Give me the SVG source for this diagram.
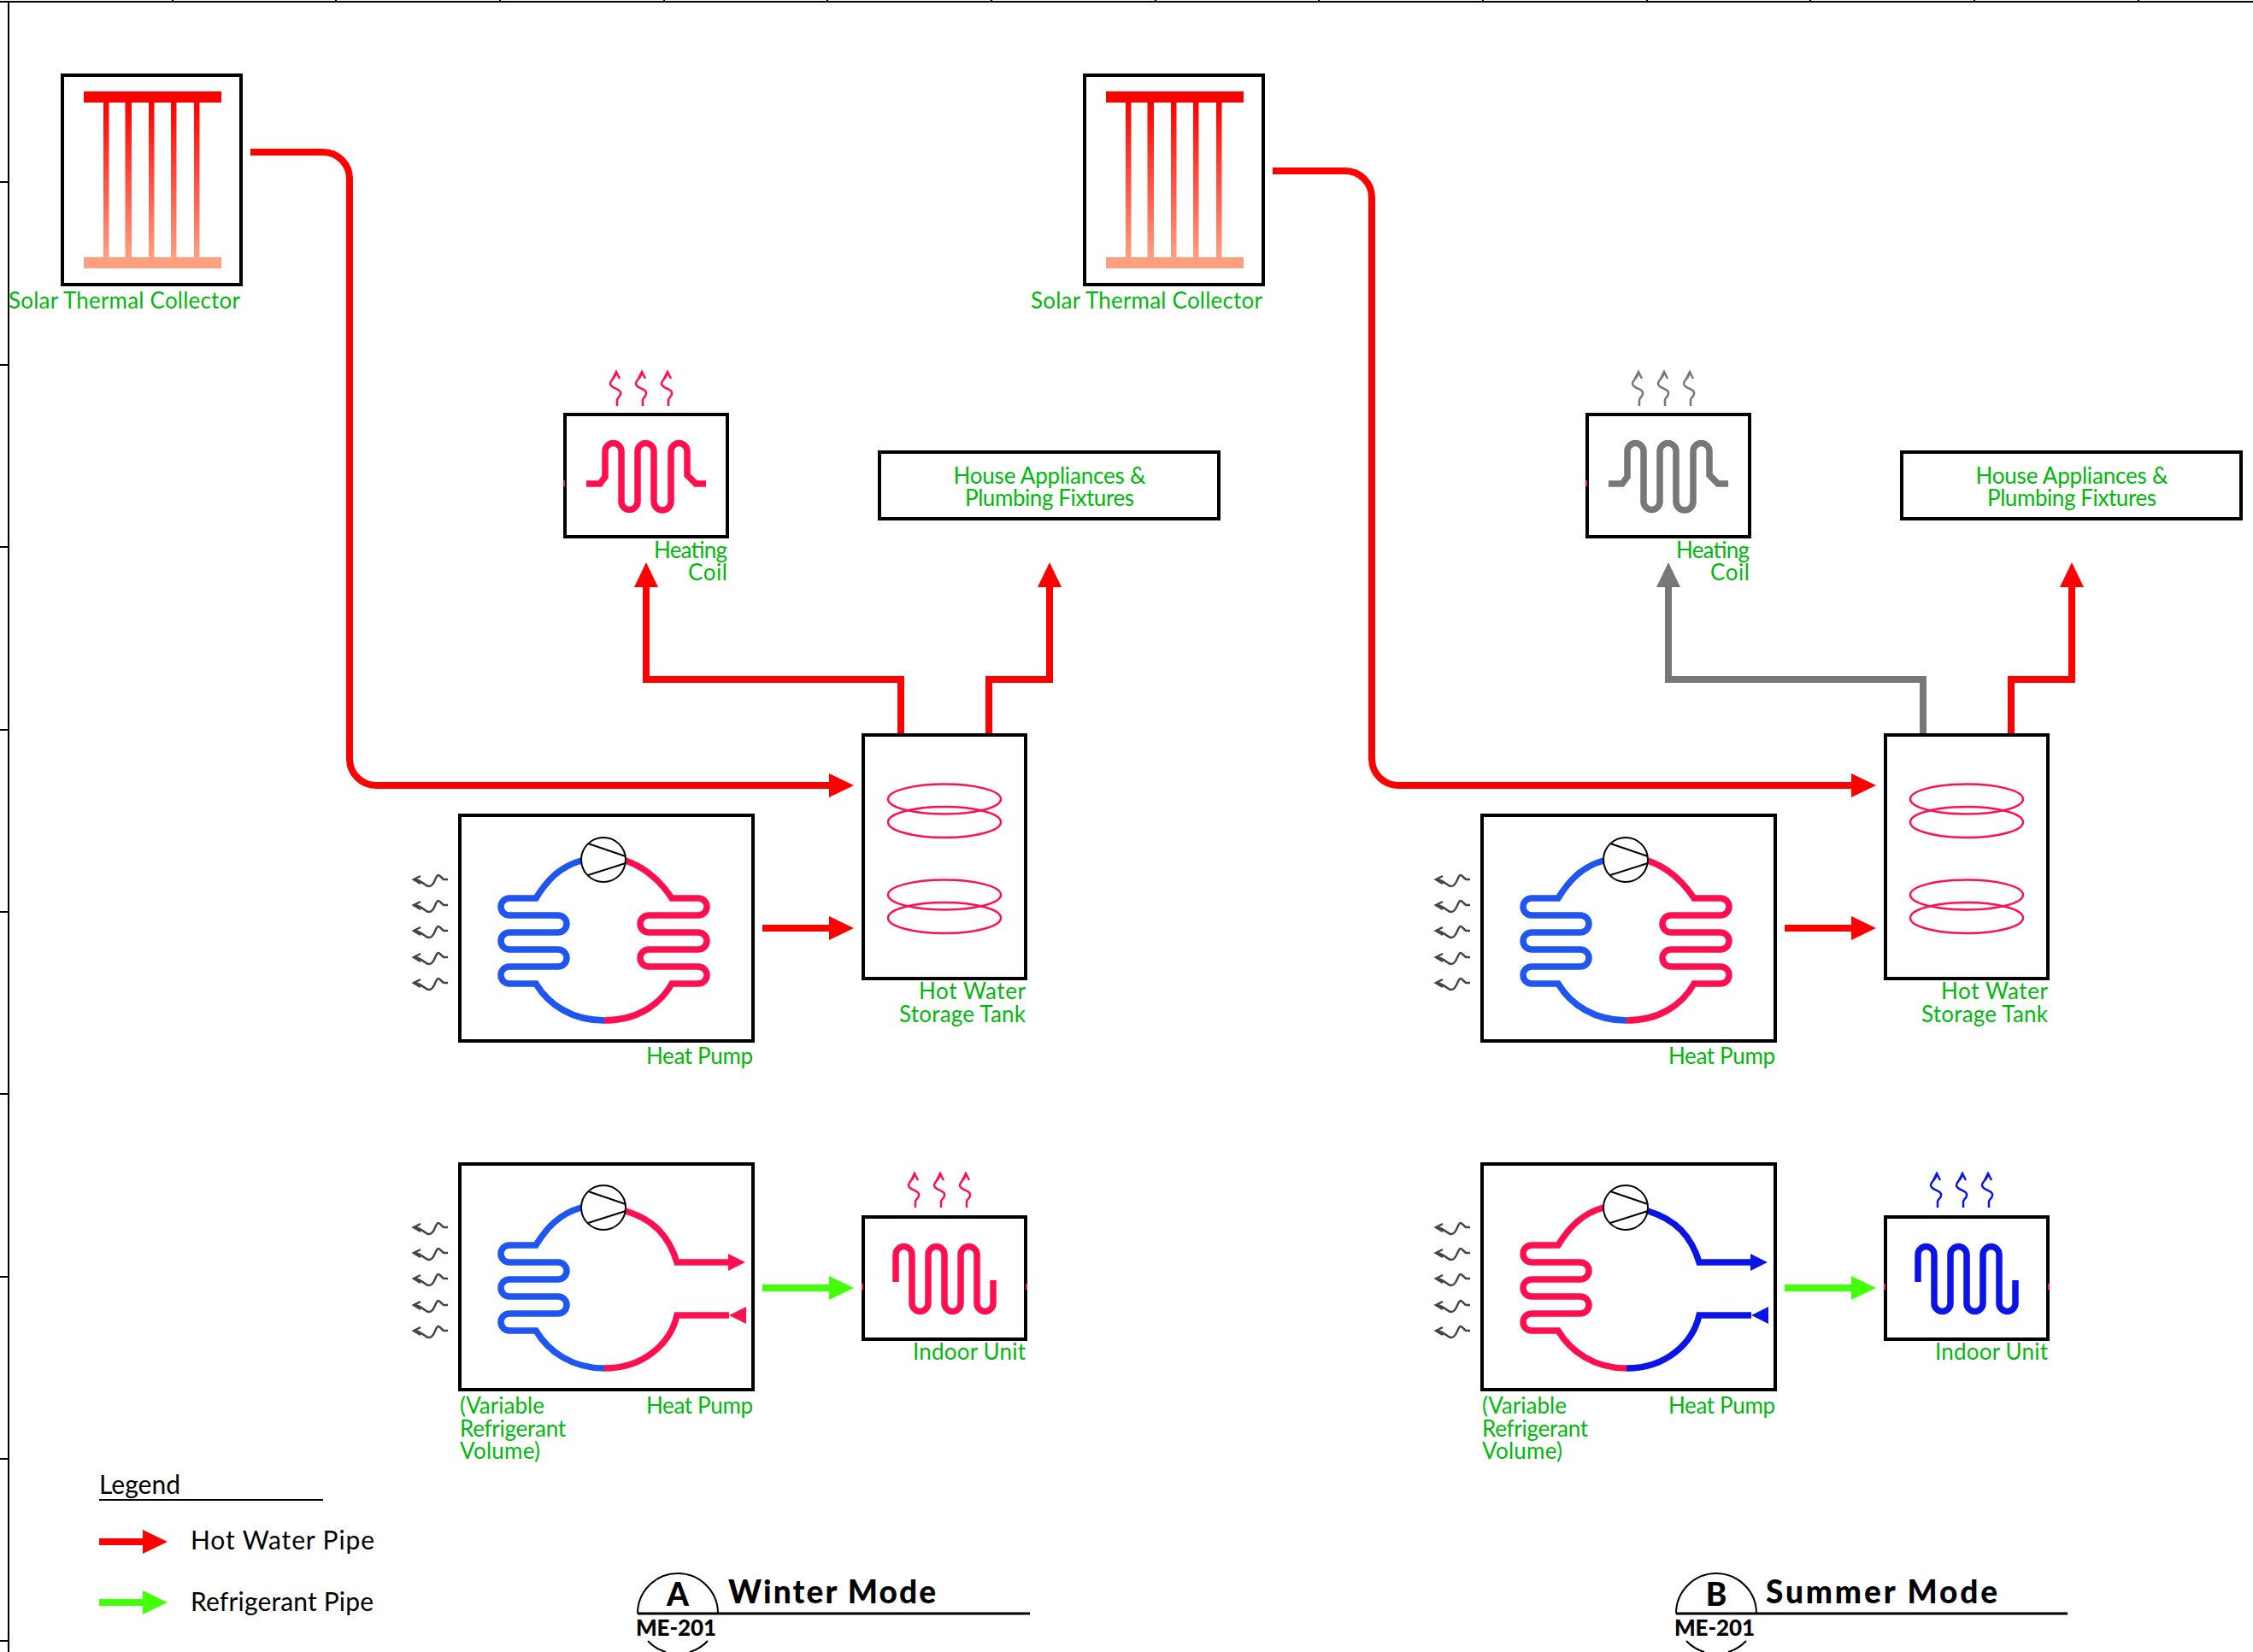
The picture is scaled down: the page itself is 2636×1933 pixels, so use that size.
<svg xmlns="http://www.w3.org/2000/svg" width="2636" height="1933" viewBox="0 0 2636 1933">
<style>
text{font-family:"Lato","Liberation Sans",sans-serif}
.box{fill:#fff;stroke:#000;stroke-width:4}
.lbl{font-size:26px;fill:#00b80c}
.end{text-anchor:end}
.mid{text-anchor:middle}
.tube{fill:none;stroke-width:7.5}
.crim{stroke:#ff0f4f}
.blue{stroke:#1f55f0}
.deep{stroke:#0a14e6}
.gry{stroke:#777}
.pipe{fill:none;stroke-width:8}
.red{stroke:#ff0000}
.grn{stroke:#44ff0a}
.leg{font-size:30px;fill:#000}
.ttl{font-size:37px;font-weight:900;fill:#000}
.num{font-size:26px;font-weight:900;fill:#000}
.ln{fill:none;stroke:#000;stroke-width:2}
.wv{fill:none;stroke:#444;stroke-width:2.5}
.sq{fill:none;stroke-width:2.5}
.dot{fill:#ff0f4f}
</style>
<defs>
<linearGradient id="grad" x1="0" y1="0" x2="0" y2="1"><stop offset="0" stop-color="#ff0000"/><stop offset="1" stop-color="#ff9f80"/></linearGradient>
<marker id="mRed" markerUnits="userSpaceOnUse" markerWidth="29" markerHeight="28" refX="0" refY="14" orient="auto"><path d="M0 0L29 14L0 28z" fill="#ff0000"/></marker>
<marker id="mGry" markerUnits="userSpaceOnUse" markerWidth="29" markerHeight="28" refX="0" refY="14" orient="auto"><path d="M0 0L29 14L0 28z" fill="#777"/></marker>
<marker id="mGrn" markerUnits="userSpaceOnUse" markerWidth="29" markerHeight="28" refX="0" refY="14" orient="auto"><path d="M0 0L29 14L0 28z" fill="#44ff0a"/></marker>
<path id="wave" d="M524 1029H519C516 1027 515 1024 513 1024C509 1024 509 1037 502 1037C497 1037 496 1031 485 1029M492 1025L484 1029L492 1034"/>
<g id="waves" class="wv"><use href="#wave"/><use href="#wave" y="30"/><use href="#wave" y="60"/><use href="#wave" y="91"/><use href="#wave" y="121"/></g>
<path id="sq" d="M0 0V-7C0-10 5-11 4-16C3-20-8-21-8-26C-8-31-1-33-1-40M-5-32L-1-40L3-32"/>
<g id="comp"><circle cx="706" cy="1006" r="26" fill="#fff" stroke="#000" stroke-width="2"/><path class="ln" d="M688 987L732 1002M732 1010L688 1024"/></g>
<path id="upL" d="M680 1007C655 1014 640 1030 627 1051H596A10 10 0 0 0 596 1071H653A10 10 0 0 1 653 1091H596A10 10 0 0 0 596 1111H653A10 10 0 0 1 653 1131H596A10 10 0 0 0 596 1151H627C642 1176 670 1194 707 1194"/>
<path id="upR" d="M732 1007C755 1015 772 1030 786 1051H817A10 10 0 0 1 817 1071H759A10 10 0 0 0 759 1091H817A10 10 0 0 1 817 1111H759A10 10 0 0 0 759 1131H817A10 10 0 0 1 817 1151H786C772 1176 745 1194 707 1194"/>
<path id="loL" d="M680 1413C655 1420 640 1436 627 1457H596A10 10 0 0 0 596 1477H653A10 10 0 0 1 653 1497H596A10 10 0 0 0 596 1517H653A10 10 0 0 1 653 1537H596A10 10 0 0 0 596 1557H627C642 1582 670 1601 707 1601"/>
<path id="loR1" d="M732 1417C765 1427 783 1447 792 1477H853"/>
<path id="loR2" d="M853 1539H792C785 1570 755 1601 707 1601"/>
<path id="indoor" d="M1048 1500V1468A9.500 9.500 0 0 1 1067 1468V1525A9.500 9.500 0 0 0 1086 1525V1468A9.500 9.500 0 0 1 1105 1468V1525A9.500 9.500 0 0 0 1124 1525V1468A9.500 9.500 0 0 1 1143 1468V1525A9.500 9.500 0 0 0 1162 1525V1498"/>
<path id="hcoil" d="M686 566H702L708 558V528A9.500 9.500 0 0 1 727 528V587A9.500 9.500 0 0 0 746 587V528A9.500 9.500 0 0 1 765 528V587A10 10 0 0 0 785 587V528A9.500 9.500 0 0 1 804 528V556L814 566H826"/>
<g id="solarArt"><rect class="box" x="73" y="88" width="209" height="245"/>
<rect x="121" y="120" width="6.500" height="181" fill="url(#grad)"/><rect x="146.500" y="120" width="7.500" height="181" fill="url(#grad)"/><rect x="174" y="120" width="6.500" height="181" fill="url(#grad)"/><rect x="200" y="120" width="6.500" height="181" fill="url(#grad)"/><rect x="227" y="120" width="6.500" height="181" fill="url(#grad)"/>
<rect x="98" y="107" width="161" height="13" fill="#ff0000"/><rect x="98" y="301" width="161" height="13" fill="#ff9f80"/>
<text class="lbl end" x="281" y="361" textLength="271">Solar Thermal Collector</text></g>
<g id="houseArt"><rect class="box" x="1029" y="529" width="397" height="78"/><text class="lbl mid" x="1228" y="566" textLength="225">House Appliances &amp;</text><text class="lbl mid" x="1228" y="591.500" textLength="198">Plumbing Fixtures</text></g>
<g id="tankArt"><rect class="box" x="1010" y="860" width="190" height="285"/><g fill="none" stroke="#ff0f4f" stroke-width="2.500"><ellipse cx="1105" cy="935" rx="66" ry="17.500"/><ellipse cx="1105" cy="962" rx="66" ry="18"/><ellipse cx="1105" cy="1047" rx="66" ry="17.500"/><ellipse cx="1105" cy="1074" rx="66" ry="18"/></g>
<text class="lbl end" x="1200" y="1169" textLength="125">Hot Water</text><text class="lbl end" x="1200" y="1196" textLength="148">Storage Tank</text></g>
<g id="pumpUp"><rect class="box" x="538" y="954" width="343" height="264"/><use href="#waves"/><use href="#upL" class="tube blue"/><use href="#upR" class="tube crim"/><use href="#comp"/><text class="lbl end" x="881" y="1245" textLength="125">Heat Pump</text></g>
<g id="boxHc"><rect class="box" x="661" y="485" width="190" height="143"/><rect class="dot" x="659" y="562" width="2" height="7"/><text class="lbl end" x="851" y="652.500" textLength="86">Heating</text><text class="lbl end" x="851" y="679" textLength="46">Coil</text></g>
<g id="boxIn"><rect class="box" x="1010" y="1424" width="190" height="143"/><rect class="dot" x="1008" y="1502" width="2" height="7"/><rect class="dot" x="1200" y="1502" width="2" height="7"/><text class="lbl end" x="1200" y="1591" textLength="132">Indoor Unit</text></g>
<g id="boxLo"><rect class="box" x="538" y="1362" width="343" height="264"/><use href="#waves" y="407"/><text class="lbl end" x="881" y="1654" textLength="125">Heat Pump</text><text class="lbl" x="538" y="1654" textLength="99">(Variable</text><text class="lbl" x="538" y="1681" textLength="124">Refrigerant</text><text class="lbl" x="538" y="1707" textLength="94">Volume)</text></g>
</defs>
<g id="ruler" fill="none" stroke="#000" stroke-width="2">
<path d="M0 2H2636M10 2V1933"/>
<path d="M202 0V2M393 0V2M585 0V2M777 0V2M968 0V2M1160 0V2M1352 0V2M1543 0V2M1735 0V2M1927 0V2M2118 0V2M2310 0V2M2502 0V2"/>
<path d="M0 213H10M0 427H10M0 640H10M0 854H10M0 1067H10M0 1280H10M0 1494H10M0 1707H10M0 1920H10"/>
</g>
<g id="connectors">
<path class="pipe red" marker-end="url(#mRed)" d="M293 178H378A31 31 0 0 1 409 209V888A31 31 0 0 0 440 919H970"/>
<path class="pipe red" marker-end="url(#mRed)" d="M892 1086H970"/>
<path class="pipe grn" marker-end="url(#mGrn)" d="M892 1507H970"/>
<path class="pipe red" marker-end="url(#mRed)" d="M1054 859V795H756V687"/>
<path class="pipe red" marker-end="url(#mRed)" d="M1157 859V795H1228V687"/>
<path class="pipe red" marker-end="url(#mRed)" d="M1489 200H1574A31 31 0 0 1 1605 231V888A31 31 0 0 0 1636 919H2166"/>
<path class="pipe red" marker-end="url(#mRed)" d="M2088 1086H2166"/>
<path class="pipe grn" marker-end="url(#mGrn)" d="M2088 1507H2166"/>
<path class="pipe gry" marker-end="url(#mGry)" d="M2250 859V795H1952V687"/>
<path class="pipe red" marker-end="url(#mRed)" d="M2353 859V795H2424V687"/>
<path class="pipe red" marker-end="url(#mRed)" d="M116 1804H167"/>
<path class="pipe grn" marker-end="url(#mGrn)" d="M116 1875H167"/>
</g>
<g id="a-solar"><use href="#solarArt"/></g>
<g id="a-heating-coil"><use href="#boxHc"/><use href="#hcoil" class="tube crim"/><g class="sq crim"><use href="#sq" x="722" y="475"/><use href="#sq" x="752" y="475"/><use href="#sq" x="782" y="475"/></g></g>
<g id="a-house"><use href="#houseArt"/></g>
<g id="a-tank"><use href="#tankArt"/></g>
<g id="a-heat-pump"><use href="#pumpUp"/></g>
<g id="a-vrf"><use href="#boxLo"/><use href="#loL" class="tube blue"/><use href="#loR1" class="tube crim"/><use href="#loR2" class="tube crim"/><path d="M852 1467L872 1477L852 1487z" fill="#ff0f4f"/><path d="M853 1539L873 1529V1549z" fill="#ff0f4f"/><use href="#comp" y="407"/></g>
<g id="a-indoor"><use href="#boxIn"/><use href="#indoor" class="tube crim"/><g class="sq crim"><use href="#sq" x="1071" y="1413"/><use href="#sq" x="1101" y="1413"/><use href="#sq" x="1131" y="1413"/></g></g>
<g id="b-solar" transform="translate(1196 0)"><use href="#solarArt"/></g>
<g id="b-heating-coil" transform="translate(1196 0)"><use href="#boxHc"/><use href="#hcoil" class="tube gry"/><g class="sq gry"><use href="#sq" x="722" y="475"/><use href="#sq" x="752" y="475"/><use href="#sq" x="782" y="475"/></g></g>
<g id="b-house" transform="translate(1196 0)"><use href="#houseArt"/></g>
<g id="b-tank" transform="translate(1196 0)"><use href="#tankArt"/></g>
<g id="b-heat-pump" transform="translate(1196 0)"><use href="#pumpUp"/></g>
<g id="b-vrf" transform="translate(1196 0)"><use href="#boxLo"/><use href="#loL" class="tube crim"/><use href="#loR1" class="tube deep"/><use href="#loR2" class="tube deep"/><path d="M852 1467L872 1477L852 1487z" fill="#0a14e6"/><path d="M853 1539L873 1529V1549z" fill="#0a14e6"/><use href="#comp" y="407"/></g>
<g id="b-indoor" transform="translate(1196 0)"><use href="#boxIn"/><use href="#indoor" class="tube deep"/><g class="sq deep"><use href="#sq" x="1071" y="1413"/><use href="#sq" x="1101" y="1413"/><use href="#sq" x="1131" y="1413"/></g></g>
<g id="legend"><text class="leg" x="116" y="1748" textLength="95">Legend</text><path d="M116 1755H378" stroke="#000" stroke-width="2"/><text class="leg" x="223" y="1813" textLength="215">Hot Water Pipe</text><text class="leg" x="223" y="1885" textLength="214">Refrigerant Pipe</text></g>
<g id="title-a"><path class="ln" d="M746 1888A47 47 0 0 1 840 1888M758 1920A47 47 0 0 0 779 1933M828 1920A47 47 0 0 1 807 1933"/><path d="M746 1888H1205" stroke="#000" stroke-width="3"/><text class="ttl mid" x="793" y="1879">A</text><text class="ttl" x="852" y="1876" textLength="243">Winter Mode</text><text class="num" x="744" y="1914" textLength="94">ME-201</text></g>
<g id="title-b"><path class="ln" d="M1961 1888A47 47 0 0 1 2055 1888M1973 1920A47 47 0 0 0 1994 1933M2043 1920A47 47 0 0 1 2022 1933"/><path d="M1961 1888H2419" stroke="#000" stroke-width="3"/><text class="ttl mid" x="2008" y="1879">B</text><text class="ttl" x="2066" y="1876" textLength="271">Summer Mode</text><text class="num" x="1959" y="1914" textLength="94">ME-201</text></g>
</svg>
